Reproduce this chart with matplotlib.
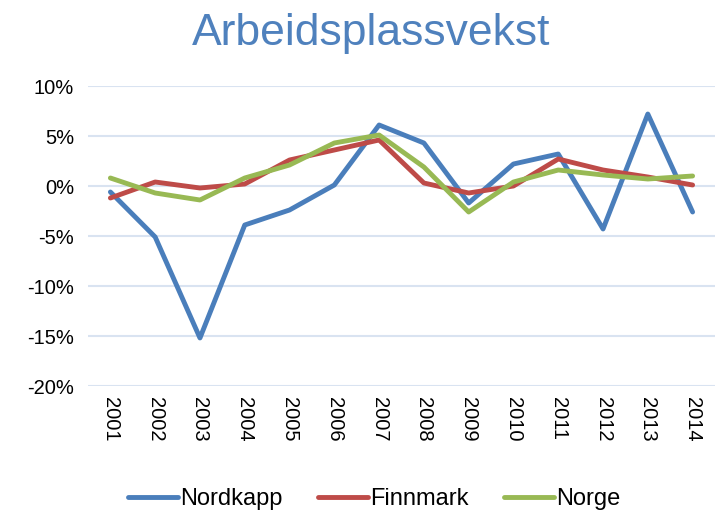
import matplotlib.pyplot as plt
import matplotlib.ticker as mticker

plt.rcParams['font.family'] = ['Liberation Sans', 'DejaVu Sans']

years = [str(y) for y in range(2001, 2015)]
nordkapp = [-0.6, -5.1, -15.2, -3.9, -2.4, 0.1, 6.1, 4.3, -1.7, 2.2, 3.2, -4.3, 7.2, -2.6]
finnmark = [-1.2, 0.4, -0.2, 0.2, 2.6, 3.6, 4.6, 0.3, -0.7, 0.0, 2.7, 1.6, 0.9, 0.1]
norge = [0.8, -0.7, -1.4, 0.8, 2.1, 4.3, 5.1, 1.9, -2.6, 0.4, 1.6, 1.1, 0.7, 1.0]

fig = plt.figure(figsize=(7.17, 5.12), dpi=100)
ax = fig.add_axes([88 / 717, 1 - 386 / 512, (715 - 88) / 717, 300 / 512])

x = range(len(years))
ax.plot(x, nordkapp, color='#4A7EBB', lw=3.5, label='Nordkapp', solid_capstyle='round')
ax.plot(x, finnmark, color='#BE4B48', lw=3.5, label='Finnmark', solid_capstyle='round')
ax.plot(x, norge, color='#98B954', lw=3.5, label='Norge', solid_capstyle='round')

ax.set_xlim(-0.5, len(years) - 0.5)
ax.set_ylim(-20, 10)
ax.set_yticks(range(-20, 11, 5))
ax.yaxis.set_major_formatter(mticker.FuncFormatter(lambda v, p: f'{v:.0f}%'))
ax.set_xticks(list(x))
ax.set_xticklabels(years, rotation=-90)
ax.tick_params(length=0, labelsize=14.5, colors='black')
ax.tick_params(axis='y', pad=10)
ax.tick_params(axis='x', pad=8)
ax.grid(axis='y', color='#D9E3F1', lw=1.5)
ax.set_axisbelow(True)
for s in ax.spines.values():
    s.set_visible(False)

fig.suptitle('Arbeidsplassvekst', x=0.518, y=0.975, fontsize=32, color='#4F81BD')
fig.legend(loc='lower center', bbox_to_anchor=(0.522, -0.038), ncol=3, frameon=False,
           fontsize=17, handlelength=2.1, handletextpad=0.1, columnspacing=1.5)

fig.savefig('out.png', dpi=100)
